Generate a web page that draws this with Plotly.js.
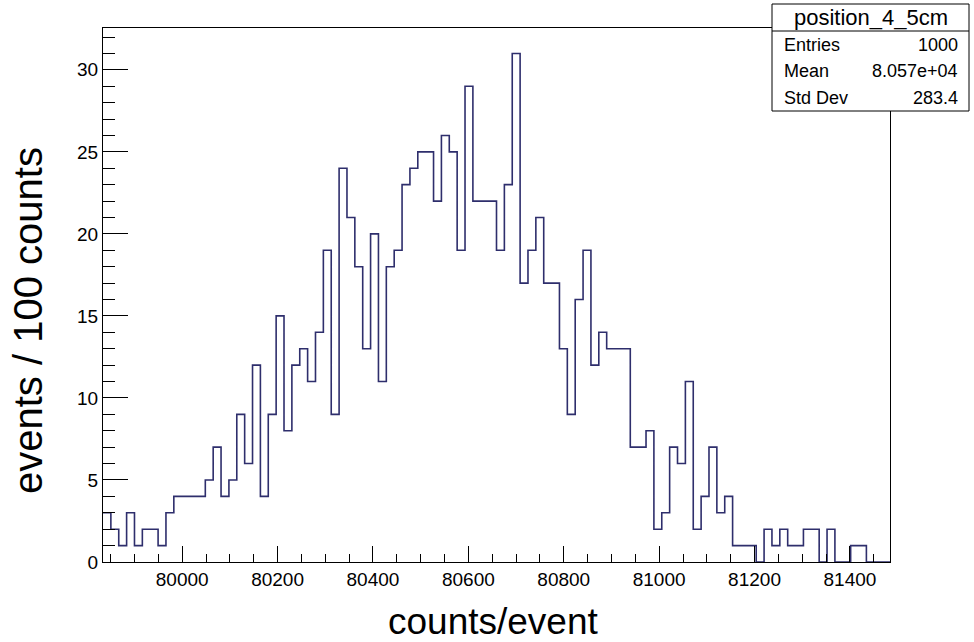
<!DOCTYPE html>
<html>
<head>
<meta charset="utf-8">
<script src="https://cdn.plot.ly/plotly-3.0.1.min.js"></script>
<style>html,body{margin:0;padding:0;background:#fff;}#chart{width:974px;height:642px;}</style>
</head>
<body>
<div id="chart"></div>
<script>
// ---- data ----
const histName = "position_4_5cm";
const binLow = 79834;      // lower edge of first bin
const binWidth = 16.5;     // bin width
const counts = [
  3,2,1,3,1,2,2,1,3,4,
  4,4,4,5,7,4,5,9,6,12,
  4,9,15,8,12,13,11,14,19,9,
  24,21,18,13,20,11,18,19,23,24,
  25,25,22,26,25,19,29,22,22,22,
  19,23,31,17,19,21,17,17,13,9,
  16,19,12,14,13,13,13,7,7,8,
  2,3,7,6,11,2,4,7,3,4,
  1,1,1,0,2,1,2,1,1,2,
  2,0,2,0,0,1,1,0,0,0
];
const statLabels = ["Entries", "Mean", "Std Dev"];
const statValues = ["1000", "8.057e+04", "283.4"];
const xTitle = "counts/event";
const yTitle = "events / 100 counts";

// ---- build step outline ----
const xs = [], ys = [];
for (let i = 0; i < counts.length; i++) { xs.push(binLow + i * binWidth); ys.push(counts[i]); }
xs.push(binLow + counts.length * binWidth); ys.push(counts[counts.length - 1]);
const xMax = binLow + counts.length * binWidth;

// plot area in pixels
const L = 103, R = 890, T = 28, B = 562, W = 974, H = 642;
const px = x => (x - L) / (R - L);
const py = y => (B - y) / (B - T);

const font = "Liberation Sans, Arial, Helvetica, sans-serif";

const trace = {
  type: "scatter", mode: "lines",
  x: xs, y: ys,
  line: {shape: "hv", color: "#2e2e6c", width: 1.6},
  hoverinfo: "x+y", showlegend: false
};

const shapes = [
  {type: "rect", xref: "paper", yref: "paper", x0: px(772), x1: px(969), y0: py(111), y1: py(4),
   line: {color: "#000", width: 1}, fillcolor: "#fff", layer: "above"},
  {type: "line", xref: "paper", yref: "paper", x0: px(772), x1: px(969), y0: py(31), y1: py(31),
   line: {color: "#000", width: 1}, layer: "above"}
];

const annotations = [
  {xref: "paper", yref: "paper", x: px(870.5), y: py(18), text: histName, showarrow: false,
   xanchor: "center", yanchor: "middle", font: {family: font, size: 22, color: "#000"}},
  {xref: "paper", yref: "paper", x: px(493), y: py(621), text: xTitle, showarrow: false,
   xanchor: "center", yanchor: "middle", font: {family: font, size: 37, color: "#000"}},
  {xref: "paper", yref: "paper", x: px(28), y: py(321), text: yTitle, showarrow: false, textangle: -90,
   xanchor: "center", yanchor: "middle", font: {family: font, size: 40, color: "#000"}}
];
const rowY = [45, 71, 97.5];
statLabels.forEach((lab, i) => {
  annotations.push({xref: "paper", yref: "paper", x: px(782), y: py(rowY[i]), text: lab, showarrow: false,
    xanchor: "left", yanchor: "middle", font: {family: font, size: 18, color: "#000"}});
  annotations.push({xref: "paper", yref: "paper", x: px(960), y: py(rowY[i]), text: statValues[i], showarrow: false,
    xanchor: "right", yanchor: "middle", font: {family: font, size: 18, color: "#000"}});
});

const layout = {
  width: W, height: H,
  margin: {l: L, r: W - R, t: T, b: H - B, pad: 0},
  paper_bgcolor: "#fff", plot_bgcolor: "#fff",
  font: {family: font, size: 19, color: "#000"},
  showlegend: false,
  xaxis: {
    range: [binLow, xMax], tick0: 0, dtick: 200, tickformat: "d",
    ticks: "inside", ticklen: 16, tickwidth: 1, tickcolor: "#000",
    minor: {dtick: 50, tick0: 0, ticks: "inside", ticklen: 8, tickwidth: 1, tickcolor: "#000", showgrid: false},
    showline: true, linecolor: "#000", linewidth: 1, mirror: true,
    showgrid: false, zeroline: false,
    tickfont: {family: font, size: 19, color: "#000"}
  },
  yaxis: {
    range: [0, 32.55], tick0: 0, dtick: 5,
    ticks: "inside", ticklen: 25, tickwidth: 1, tickcolor: "#000",
    minor: {dtick: 1, tick0: 0, ticks: "inside", ticklen: 12, tickwidth: 1, tickcolor: "#000", showgrid: false},
    showline: true, linecolor: "#000", linewidth: 1, mirror: true,
    showgrid: false, zeroline: false,
    tickfont: {family: font, size: 19, color: "#000"}
  },
  shapes: shapes,
  annotations: annotations
};

Plotly.newPlot("chart", [trace], layout, {displayModeBar: false, staticPlot: true});
</script>
</body>
</html>
